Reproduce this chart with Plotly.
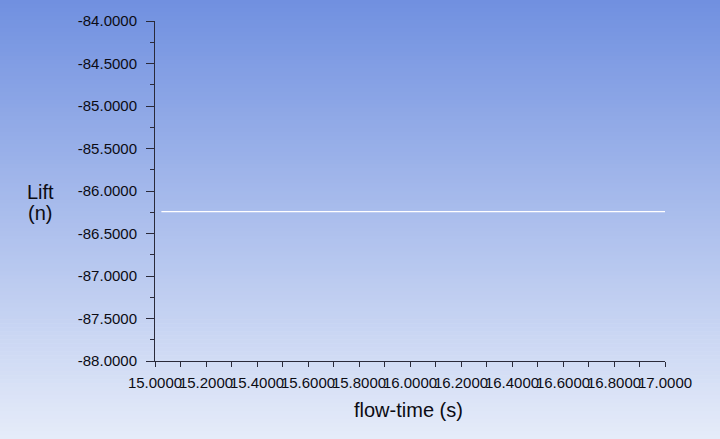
import plotly.graph_objects as go

# Data
flow_time = [15.025, 15.5, 16.0, 16.5, 17.0]
lift = [-86.242, -86.242, -86.242, -86.242, -86.242]

y_ticks = [-88.0, -87.5, -87.0, -86.5, -86.0, -85.5, -85.0, -84.5, -84.0]
x_ticks = [15.0, 15.2, 15.4, 15.6, 15.8, 16.0, 16.2, 16.4, 16.6, 16.8, 17.0]
y_labels = ["%.4f" % v for v in y_ticks]
x_labels = ["%.4f" % v for v in x_ticks]

W, H = 720, 439
L, R, T, B = 155, 55, 21, 78
pw, ph = W - L - R, H - T - B

fig = go.Figure()
fig.add_trace(go.Scatter(x=flow_time, y=lift, mode="lines",
                         line=dict(color="white", width=1.3), showlegend=False,
                         hoverinfo="skip"))

# gradient background as strips (paper coords covering whole figure)
top = (112, 144, 224)
bot = (230, 236, 249)
n = 110
shapes = []
for i in range(n):
    f0 = i / n
    f1 = (i + 1) / n
    fm = (f0 + f1) / 2
    c = tuple(round(top[k] + (bot[k] - top[k]) * fm) for k in range(3))
    ypix0 = f0 * H
    ypix1 = f1 * H + 0.6
    y0 = (H - B - ypix0) / ph
    y1 = (H - B - ypix1) / ph
    shapes.append(dict(type="rect", xref="paper", yref="paper",
                       x0=-L / pw - 0.01, x1=(W - L) / pw + 0.01, y0=y1, y1=y0,
                       fillcolor="rgb(%d,%d,%d)" % c, line=dict(width=0), layer="below"))

axis_col = "#2a2a3a"
txt_col = "#0c0c14"
fig.update_layout(
    width=W, height=H,
    margin=dict(l=L, r=R, t=T, b=B),
    paper_bgcolor="rgb(230,236,249)",
    plot_bgcolor="rgba(0,0,0,0)",
    shapes=shapes,
    hovermode=False,
    font=dict(family="Liberation Sans, Arial, sans-serif", size=15, color=txt_col),
    xaxis=dict(range=[15.0, 17.0], tickvals=x_ticks, ticktext=x_labels, tickangle=0,
               showline=True, linecolor=axis_col, linewidth=1, mirror=False,
               ticks="outside", ticklen=5, tickcolor=axis_col, showgrid=False,
               zeroline=False, ticklabelstandoff=3,
               minor=dict(dtick=0.1, ticks="outside", ticklen=5, tickcolor=axis_col, showgrid=False)),
    yaxis=dict(range=[-88.0, -84.0], tickvals=y_ticks, ticktext=y_labels,
               showline=True, linecolor=axis_col, linewidth=1,
               ticks="outside", ticklen=8, tickcolor=axis_col, showgrid=False,
               zeroline=False, ticklabelstandoff=6,
               minor=dict(dtick=0.25, ticks="outside", ticklen=4, tickcolor=axis_col, showgrid=False)),
    annotations=[
        dict(text="Lift", xref="paper", yref="paper",
             x=(40 - L) / pw, y=(H - B - 192) / ph, showarrow=False,
             font=dict(size=20, color=txt_col), xanchor="center", yanchor="middle"),
        dict(text="(n)", xref="paper", yref="paper",
             x=(40 - L) / pw, y=(H - B - 213) / ph, showarrow=False,
             font=dict(size=20, color=txt_col), xanchor="center", yanchor="middle"),
        dict(text="flow-time (s)", xref="paper", yref="paper",
             x=(408.5 - L) / pw, y=(H - B - 410) / ph, showarrow=False,
             font=dict(size=20, color=txt_col), xanchor="center", yanchor="middle"),
    ],
)

fig.write_html("out.html", config={"displayModeBar": False},
               post_script="document.body.style.margin='0';document.body.style.overflow='hidden';")
